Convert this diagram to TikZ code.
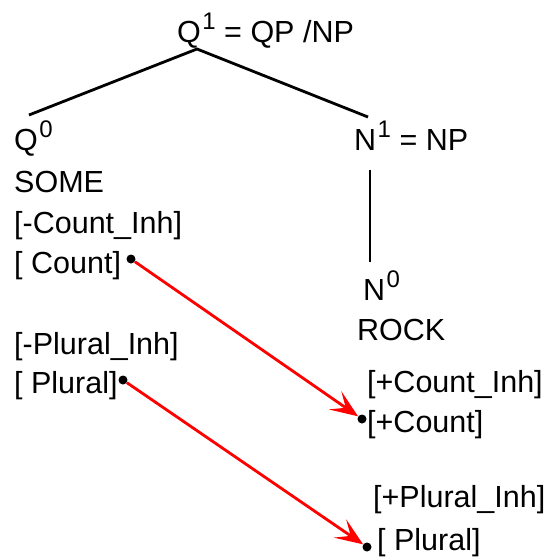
\documentclass[tikz,border=0pt]{standalone}
\usepackage{fontspec}
\setmainfont{Liberation Sans}
\usetikzlibrary{arrows.meta}
\newcommand\upidx[1]{\kern1.5pt\raisebox{13pt}{\fontsize{24}{24}\selectfont #1}}
\tikzset{
  lbl/.style={anchor=base west, inner sep=0pt, font=\fontsize{30.5}{36}\selectfont},
  branch/.style={draw=black, line width=2.8pt},
  knob/.style={circle, fill=black, inner sep=0pt, minimum size=9pt},
  link/.style={draw=red, line width=2.8pt,
    -{Stealth[length=28pt, width=22pt, inset=13pt]}},
}
\begin{document}
\begin{tikzpicture}[x=1pt, y=-1pt]
  \useasboundingbox (0,0) rectangle (547,560);

  % tree labels
  \node[lbl] (q1)   at (177,42)  {Q\upidx{1} = QP /NP};
  \node[lbl] (q0)   at (14,150)  {Q\upidx{0}};
  \node[lbl] (some) at (14,192)  {SOME};
  \node[lbl] (cinh) at (14,233)  {[-Count\_Inh]};
  \node[lbl] (cnt)  at (14,273)  {[ Count]};
  \node[lbl] (pinh) at (14,354)  {[-Plural\_Inh]};
  \node[lbl] (pl)   at (14,393)  {[ Plural]};

  \node[lbl] (n1)    at (354,150) {N\upidx{1} = NP};
  \node[lbl] (n0)    at (363,300) {N\upidx{0}};
  \node[lbl] (rock)  at (357,340) {ROCK};
  \node[lbl] (pcinh) at (367,392) {[+Count\_Inh]};
  \node[lbl] (pcnt)  at (367,432) {[+Count]};
  \node[lbl] (ppinh) at (373,507) {[+Plural\_Inh]};
  \node[lbl] (ppl)   at (377,550) {[ Plural]};

  % branch end points
  \coordinate (apex)  at (197,49);
  \coordinate (lfoot) at (29,115);
  \coordinate (rfoot) at (368,117);
  \coordinate (ntop)  at (370,170);
  \coordinate (nbot)  at (370,262);

  \draw[branch] (lfoot) -- (apex) -- (rfoot);
  \draw[branch] (ntop) -- (nbot);

  % feature dots
  \node[knob] (dc)  at (131,259) {};
  \node[knob] (dp)  at (123,380) {};
  \node[knob] (tc)  at (362,419) {};
  \node[knob] (tp)  at (367,547) {};

  \draw[link] (dc) -- (tc);
  \draw[link] (dp) -- (tp);
\end{tikzpicture}
\end{document}
